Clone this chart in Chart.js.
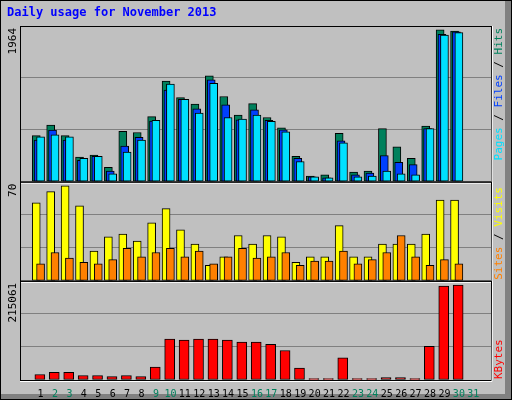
<!DOCTYPE html>
<html>
<head>
<meta charset="utf-8">
<script src="https://cdn.jsdelivr.net/npm/chart.js@4"></script>
<style>body{margin:0;background:#c0c0c0}</style>
</head>
<body>
<canvas id="usage" width="512" height="400"></canvas>
<script>
// data
const days = Array.from({length: 31}, (_, i) => i + 1);
const weekend = [2, 3, 9, 10, 16, 17, 23, 24, 30, 31];
const hits = [582, 715, 582, 310, 335, 180, 635, 620, 820, 1270, 1060, 980, 1335, 1075, 840, 985, 810, 680, 320, 70, 85, 610, 120, 135, 670, 440, 295, 700, 1915, 1900, 0];
const files = [525, 650, 525, 270, 320, 135, 450, 560, 765, 1155, 1040, 920, 1285, 970, 780, 905, 775, 655, 295, 60, 50, 515, 85, 110, 330, 245, 215, 670, 1860, 1890, 0];
const pages = [565, 590, 565, 295, 320, 100, 375, 525, 775, 1230, 1040, 865, 1240, 810, 790, 840, 760, 630, 255, 60, 50, 490, 60, 70, 135, 100, 85, 670, 1850, 1880, 0];
const visits = [55, 63, 67, 53, 21, 31, 33, 28, 41, 51, 36, 26, 11, 17, 32, 26, 32, 31, 13, 17, 17, 39, 17, 17, 26, 26, 26, 33, 57, 57, 0];
const sites = [12, 20, 16, 13, 12, 15, 23, 17, 20, 23, 17, 21, 12, 17, 23, 16, 17, 20, 11, 14, 14, 21, 12, 15, 20, 32, 17, 11, 15, 12, 0];
const kbytes = [12000, 16500, 16500, 9800, 9800, 7500, 9800, 7500, 27800, 88700, 86500, 88700, 88700, 86500, 82000, 82000, 77500, 63900, 25600, 3000, 3000, 48100, 3000, 3000, 5300, 5300, 3000, 72900, 203800, 206000, 0];
const maxHits = 1964, maxVisits = 70, maxKB = 215061;

const pts = (arr, off) => arr.map((v, i) => ({x: days[i] + off, y: v}));
const bar = (label, arr, off, color, axis, order, w) => ({
    label, data: pts(arr, off), yAxisID: axis, backgroundColor: color,
    borderColor: '#000', borderWidth: 1, borderSkipped: false,
    barThickness: w, grouped: false, order
});
const yAxis = (max, weight) => ({
    type: 'linear', stack: 'panels', stackWeight: weight, min: 0, max,
    afterBuildTicks: s => { s.ticks = [0, max / 3, 2 * max / 3, max].map(v => ({value: v})); },
    ticks: {display: false},
    grid: {color: '#808080', lineWidth: 1, drawTicks: false},
    border: {display: false}
});

function rotText(ctx, x, y, parts, align) {
    ctx.save();
    ctx.translate(x, y);
    ctx.rotate(-Math.PI / 2);
    ctx.font = '11px "DejaVu Sans Mono"';
    ctx.textBaseline = 'middle';
    let total = parts.reduce((s, p) => s + ctx.measureText(p[0]).width, 0);
    let pos = align === 'end' ? -total : 0;
    parts.forEach(p => {
        ctx.fillStyle = p[1];
        ctx.textAlign = 'left';
        ctx.fillText(p[0], pos, 0);
        pos += ctx.measureText(p[0]).width;
    });
    ctx.restore();
}

const frame = {
    id: 'frame',
    beforeDraw(chart) {
        const c = chart.ctx;
        c.save();
        c.fillStyle = '#c0c0c0';
        c.fillRect(0, 0, 512, 400);
        c.fillStyle = '#808080';
        c.fillRect(505, 0, 7, 400);
        c.fillRect(0, 394, 512, 6);
        c.strokeStyle = '#000';
        c.strokeRect(0.5, 0.5, 511, 399);
        c.font = 'bold 12px "DejaVu Sans Mono"';
        c.fillStyle = '#0000ff';
        c.textBaseline = 'alphabetic';
        c.fillText('Daily usage for November 2013', 7, 16);
        c.restore();
    },
    afterDraw(chart) {
        const c = chart.ctx, a = chart.chartArea;
        c.save();
        ['yH', 'yS', 'yK'].forEach(id => {
            const s = chart.scales[id];
            c.strokeStyle = '#000';
            c.strokeRect(a.left + 0.5, s.top + 0.5, a.right - a.left, s.bottom - s.top);
            c.strokeStyle = '#fff';
            c.beginPath();
            c.moveTo(a.left, s.bottom + 1.5);
            c.lineTo(a.right + 1, s.bottom + 1.5);
            c.lineTo(a.right + 1.5, s.top);
            c.stroke();
        });
        c.restore();
        const H = chart.scales.yH, S = chart.scales.yS, K = chart.scales.yK;
        rotText(c, 13, H.top + 2, [['1964', '#000']], 'end');
        rotText(c, 13, S.top + 2, [['70', '#000']], 'end');
        rotText(c, 13, K.top + 2, [['215061', '#000']], 'end');
        rotText(c, 499, H.top + 2, [['Pages', '#00e0ff'], [' / ', '#000'], ['Files', '#0040ff'], [' / ', '#000'], ['Hits', '#00805c']], 'end');
        rotText(c, 499, S.bottom - 1, [['Sites', '#ff8000'], [' / ', '#000'], ['Visits', '#ffff00']], 'start');
        rotText(c, 499, K.bottom - 1, [['KBytes', '#ff0000']], 'start');
    }
};

new Chart(document.getElementById('usage'), {
    type: 'bar',
    data: {
        datasets: [
            bar('Hits', hits, -0.3, '#00805c', 'yH', 3, 8),
            bar('Files', files, -0.17, '#0040ff', 'yH', 2, 8),
            bar('Pages', pages, 0, '#00e0ff', 'yH', 1, 8),
            bar('Visits', visits, -0.3, '#ffff00', 'yS', 2, 8),
            bar('Sites', sites, 0, '#ff8000', 'yS', 1, 8),
            bar('KBytes', kbytes, -0.05, '#ff0000', 'yK', 1, 10)
        ]
    },
    options: {
        responsive: false,
        devicePixelRatio: 1,
        animation: false,
        layout: {padding: {left: 20, right: 21, top: 26, bottom: 0}},
        plugins: {legend: {display: false}, tooltip: {enabled: false}},
        scales: {
            x: {
                type: 'linear', min: 0.1, max: 31.7,
                afterBuildTicks: s => { s.ticks = days.map(d => ({value: d})); },
                ticks: {
                    autoSkip: false, maxRotation: 0, padding: 0,
                    font: {family: 'DejaVu Sans Mono', size: 10},
                    color: ctx => weekend.includes(ctx.tick.value) ? '#00805c' : '#000'
                },
                grid: {display: false},
                border: {display: false}
            },
            yK: yAxis(maxKB, 1),
            yS: yAxis(maxVisits, 1),
            yH: yAxis(maxHits, 1.57)
        }
    },
    plugins: [frame]
});
</script>
</body>
</html>
